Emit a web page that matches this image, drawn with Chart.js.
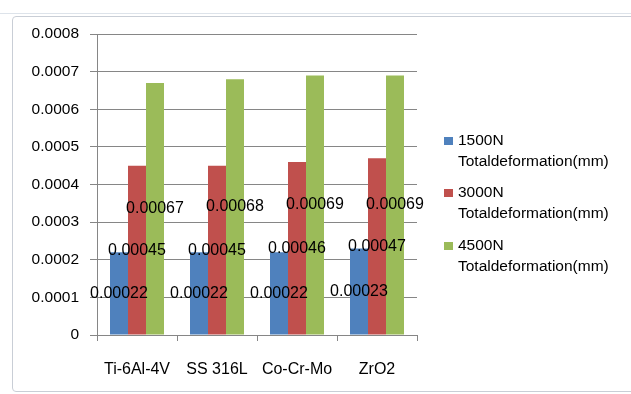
<!DOCTYPE html>
<html>
<head>
<meta charset="utf-8">
<script src="https://cdn.jsdelivr.net/npm/chart.js@4.4.1/dist/chart.umd.min.js"></script>
<style>
  html, body { margin: 0; padding: 0; background: #ffffff; }
  #wrap { position: relative; width: 631px; height: 394px; overflow: hidden; }
  #frame {
    position: absolute; left: 12px; top: 16px; width: 622px; height: 374px;
    border: 1px solid #c9ced6; border-radius: 4px; pointer-events: none;
  }
  #topline { position: absolute; left: 0; top: 13px; width: 631px; height: 1px; background: #dde3ea; }
  canvas { position: absolute; left: 0; top: 0; }
</style>
</head>
<body>
<div id="wrap">
  <div id="topline"></div>
  <canvas id="c" width="631" height="394"></canvas>
  <div id="frame"></div>
</div>
<script>
// Materials and total deformation (mm) under three loads
const materials = ['Ti-6Al-4V', 'SS 316L', 'Co-Cr-Mo', 'ZrO2'];
const load1500 = [0.00022, 0.00022, 0.00022, 0.00023];
const load3000 = [0.00045, 0.00045, 0.00046, 0.00047];
const load4500 = [0.00067, 0.00068, 0.00069, 0.00069];
const seriesNames = ['1500N', '3000N', '4500N'];
const seriesSubtitle = 'Totaldeformation(mm)';
const seriesColors = ['#4F81BD', '#C0504D', '#9BBB59'];

const FONT = "'Liberation Sans', Arial, sans-serif";

// Value labels drawn at the middle of each bar
const barValueLabels = {
  id: 'barValueLabels',
  afterDatasetsDraw(chart) {
    const ctx = chart.ctx;
    ctx.save();
    ctx.font = '16px ' + FONT;
    ctx.fillStyle = '#000000';
    ctx.textAlign = 'center';
    ctx.textBaseline = 'middle';
    chart.data.datasets.forEach((ds, i) => {
      const meta = chart.getDatasetMeta(i);
      meta.data.forEach((bar, j) => {
        const y = (bar.y + bar.base) / 2;
        ctx.fillText(String(ds.data[j]), bar.x, y);
      });
    });
    ctx.restore();
  }
};

// Two-line legend at the right
const sideLegend = {
  id: 'sideLegend',
  afterDraw(chart) {
    const ctx = chart.ctx;
    ctx.save();
    ctx.font = '15.5px ' + FONT;
    ctx.textBaseline = 'middle';
    ctx.textAlign = 'left';
    const x0 = 444, tx = 458;
    const ys = [141, 193, 246];
    chart.data.datasets.forEach((ds, i) => {
      const y = ys[i];
      ctx.fillStyle = ds.backgroundColor;
      ctx.fillRect(x0, y - 4, 9, 8);
      ctx.fillStyle = '#000000';
      ctx.fillText(ds.label, tx, y);
      ctx.fillText(seriesSubtitle, tx, y + 21);
    });
    ctx.restore();
  }
};

const loads = [load1500, load3000, load4500];
new Chart(document.getElementById('c'), {
  type: 'bar',
  data: {
    labels: materials,
    datasets: loads.map((vals, i) => ({
      label: seriesNames[i],
      data: vals,
      backgroundColor: seriesColors[i],
      borderWidth: 0,
      categoryPercentage: 0.675,
      barPercentage: 1.0
    }))
  },
  options: {
    responsive: false,
    animation: false,
    devicePixelRatio: 1,
    layout: { padding: { left: 0, right: 214, top: 34, bottom: 0 } },
    plugins: {
      legend: { display: false },
      tooltip: { enabled: false },
      title: { display: false }
    },
    scales: {
      x: {
        grid: {
          display: true,
          drawOnChartArea: false,
          drawTicks: true,
          tickLength: 6,
          color: '#868686',
          offset: true
        },
        border: { display: true, color: '#868686', width: 1 },
        ticks: {
          color: '#000000',
          font: { family: FONT, size: 16 },
          padding: 19,
          maxRotation: 0
        },
        afterFit(axis) { axis.height = 59; }
      },
      y: {
        min: 0,
        max: 0.0008,
        grid: {
          color: '#868686',
          drawTicks: true,
          tickLength: 7
        },
        border: { display: true, color: '#868686', width: 1 },
        ticks: {
          stepSize: 0.0001,
          color: '#000000',
          font: { family: FONT, size: 15.5 },
          padding: 11,
          callback: (v) => (v === 0 ? '0' : Number(v.toFixed(4)).toString())
        },
        afterFit(axis) { axis.width = 97; }
      }
    }
  },
  plugins: [barValueLabels, sideLegend]
});
</script>
</body>
</html>
